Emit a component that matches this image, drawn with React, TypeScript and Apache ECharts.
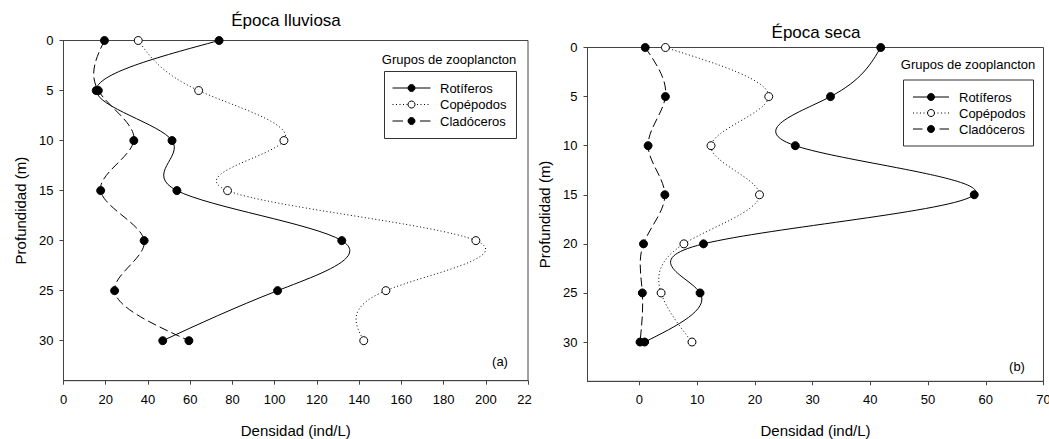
import React, { useEffect, useRef } from "react";
import * as echarts from "echarts";

// ---- Data ----
const depths = [0, 5, 10, 15, 20, 25, 30];
const seriesNames = ["Rotíferos", "Copépodos", "Cladóceros"];

// Época lluviosa (a)
const rainyRotiferos = [73.7, 15.5, 51.4, 53.7, 131.8, 101.4, 47.0];
const rainyCopepodos = [35.4, 64.0, 104.4, 77.7, 195.3, 152.7, 142.2];
const rainyCladoceros = [19.4, 16.5, 33.3, 17.6, 38.2, 24.2, 59.4];

// Época seca (b)
const dryRotiferos = [41.8, 33.1, 27.0, 58.0, 11.1, 10.5, 0.9];
const dryCopepodos = [4.5, 22.4, 12.4, 20.8, 7.7, 3.75, 9.1];
const dryCladoceros = [1.0, 4.5, 1.5, 4.4, 0.7, 0.5, 0.1];

const depthTicks = [0, 5, 10, 15, 20, 25, 30];
const dryDensityTicks = [0, 10, 20, 30, 40, 50, 60, 70];

const FONT = '"Liberation Sans", Arial, Helvetica, sans-serif';
const AXIS_COLOR = "#444";

type Kind = "solid" | "dotted" | "dashed";

function dashFor(kind: Kind): any {
  return kind === "solid" ? null : kind === "dotted" ? [1, 2.5] : [9, 4];
}

// Second derivatives of a natural cubic spline through xs (uniform knots),
// used only to place the Bezier control points of the drawn curve.
function naturalSplineM(xs: number[]): number[] {
  const n = xs.length;
  const M = new Array(n).fill(0);
  if (n < 3) return M;
  const m = n - 2;
  const c: number[] = new Array(m).fill(0);
  const d: number[] = new Array(m).fill(0);
  for (let k = 0; k < m; k++) {
    const i = k + 1;
    const rhs = 6 * (xs[i + 1] - 2 * xs[i] + xs[i - 1]);
    if (k === 0) {
      c[k] = 1 / 4;
      d[k] = rhs / 4;
    } else {
      const den = 4 - c[k - 1];
      c[k] = 1 / den;
      d[k] = (rhs - d[k - 1]) / den;
    }
  }
  for (let k = m - 1; k >= 0; k--) {
    M[k + 1] = d[k] - (k < m - 1 ? c[k] * M[k + 2] : 0);
  }
  return M;
}

function curveSeries(xs: number[], axisIndex: number, kind: Kind) {
  const M = naturalSplineM(xs);
  return {
    type: "custom",
    xAxisIndex: axisIndex,
    yAxisIndex: axisIndex,
    data: xs.map((x, i) => [x, depths[i]]),
    encode: { x: 0, y: 1 },
    silent: true,
    z: 2,
    renderItem: (params: any, api: any) => {
      if (params.dataIndex !== 0) return null;
      const n = xs.length;
      const p0 = api.coord([xs[0], depths[0]]);
      let d = `M${p0[0]} ${p0[1]}`;
      for (let i = 0; i < n - 1; i++) {
        const dxs = xs[i + 1] - xs[i];
        const dStart = dxs - (2 * M[i] + M[i + 1]) / 6;
        const dEnd = dxs + (M[i] + 2 * M[i + 1]) / 6;
        const dy = depths[i + 1] - depths[i];
        const c1 = api.coord([xs[i] + dStart / 3, depths[i] + dy / 3]);
        const c2 = api.coord([xs[i + 1] - dEnd / 3, depths[i + 1] - dy / 3]);
        const p = api.coord([xs[i + 1], depths[i + 1]]);
        d += ` C${c1[0]} ${c1[1]} ${c2[0]} ${c2[1]} ${p[0]} ${p[1]}`;
      }
      return {
        type: "path",
        shape: { pathData: d },
        style: {
          fill: "none",
          stroke: "#000",
          lineWidth: 1,
          lineDash: dashFor(kind),
        },
      };
    },
  };
}

function markerSeries(name: string, xs: number[], axisIndex: number, kind: Kind) {
  return {
    type: "scatter",
    name,
    xAxisIndex: axisIndex,
    yAxisIndex: axisIndex,
    data: xs.map((x, i) => [x, depths[i]]),
    symbol: "circle",
    symbolSize: 8,
    z: 3,
    itemStyle: {
      color: kind === "dotted" ? "#fff" : "#000",
      borderColor: "#000",
      borderWidth: 1,
      opacity: 1,
    },
    emphasis: { disabled: true },
  };
}

function legendGraphics(
  boxX: number,
  boxY: number,
  boxW: number,
  boxH: number,
  titleX: number,
  titleY: number,
  lineX1: number,
  lineX2: number,
  textX: number,
  rowsY: number[]
) {
  const cx = (lineX1 + lineX2) / 2;
  const els: any[] = [
    {
      type: "text",
      x: titleX,
      y: titleY,
      style: {
        text: "Grupos de zooplancton",
        font: `13px ${FONT}`,
        fill: "#000",
        align: "center",
        verticalAlign: "middle",
      },
    },
    {
      type: "rect",
      shape: { x: boxX, y: boxY, width: boxW, height: boxH },
      style: { fill: "#fff", stroke: "#333", lineWidth: 1 },
      z: 10,
    },
  ];
  seriesNames.forEach((n, i) => {
    const y = rowsY[i];
    if (i === 0) {
      els.push({
        type: "line",
        shape: { x1: lineX1, y1: y, x2: lineX2, y2: y },
        style: { stroke: "#000", lineWidth: 1 },
        z: 11,
      });
    } else if (i === 1) {
      els.push({
        type: "line",
        shape: { x1: lineX1, y1: y, x2: lineX2, y2: y },
        style: { stroke: "#000", lineWidth: 1, lineDash: [1, 2.5] },
        z: 11,
      });
    } else {
      els.push({
        type: "line",
        shape: { x1: lineX1, y1: y, x2: cx - 8.5, y2: y },
        style: { stroke: "#000", lineWidth: 1 },
        z: 11,
      });
      els.push({
        type: "line",
        shape: { x1: cx + 8.5, y1: y, x2: lineX2, y2: y },
        style: { stroke: "#000", lineWidth: 1 },
        z: 11,
      });
    }
    els.push({
      type: "circle",
      shape: { cx, cy: y, r: 3.5 },
      style: {
        fill: i === 1 ? "#fff" : "#000",
        stroke: "#000",
        lineWidth: 1,
      },
      z: 12,
    });
    els.push({
      type: "text",
      x: textX,
      y,
      style: {
        text: n,
        font: `13px ${FONT}`,
        fill: "#000",
        align: "left",
        verticalAlign: "middle",
      },
      z: 12,
    });
  });
  return els;
}

function yAxisDef(gridIndex: number) {
  return {
    type: "value",
    gridIndex,
    inverse: true,
    min: 0,
    max: 34,
    position: "left",
    name: "Profundidad (m)",
    nameLocation: "middle",
    nameGap: 36,
    nameTextStyle: { fontSize: 15, fontFamily: FONT, color: "#000" },
    axisLine: {
      show: true,
      onZero: false,
      lineStyle: { color: AXIS_COLOR, width: 1 },
    },
    axisTick: {
      show: true,
      inside: false,
      length: 4,
      customValues: depthTicks,
      lineStyle: { color: AXIS_COLOR },
    },
    axisLabel: {
      customValues: depthTicks,
      margin: 10,
      fontSize: 13,
      fontFamily: FONT,
      color: "#000",
    },
    splitLine: { show: false },
  };
}

export default function App() {
  const ref = useRef<HTMLDivElement>(null);

  useEffect(() => {
    if (!ref.current) return;
    const chart = echarts.init(ref.current, null, { renderer: "svg" });

    const groups: [string, number[], number, Kind][] = [
      [seriesNames[2], rainyCladoceros, 0, "dashed"],
      [seriesNames[1], rainyCopepodos, 0, "dotted"],
      [seriesNames[0], rainyRotiferos, 0, "solid"],
      [seriesNames[2], dryCladoceros, 1, "dashed"],
      [seriesNames[1], dryCopepodos, 1, "dotted"],
      [seriesNames[0], dryRotiferos, 1, "solid"],
    ];

    const option: any = {
      animation: false,
      backgroundColor: "#fff",
      textStyle: { fontFamily: FONT },
      grid: [
        {
          left: 63.5,
          top: 40.5,
          width: 464.5,
          height: 340.2,
          show: true,
          borderColor: AXIS_COLOR,
          borderWidth: 1,
          backgroundColor: "transparent",
          outerBoundsMode: "none",
        },
        {
          left: 587.5,
          top: 47.5,
          width: 456,
          height: 333.8,
          show: true,
          borderColor: AXIS_COLOR,
          borderWidth: 1,
          backgroundColor: "transparent",
          outerBoundsMode: "none",
        },
      ],
      xAxis: [
        {
          type: "value",
          gridIndex: 0,
          min: 0,
          max: 220,
          interval: 20,
          position: "bottom",
          name: "Densidad (ind/L)",
          nameLocation: "middle",
          nameGap: 42,
          nameTextStyle: { fontSize: 15, fontFamily: FONT, color: "#000" },
          axisLine: {
            show: true,
            onZero: false,
            lineStyle: { color: AXIS_COLOR, width: 1 },
          },
          axisTick: { show: true, length: 4, lineStyle: { color: AXIS_COLOR } },
          axisLabel: {
            margin: 12,
            fontSize: 13,
            fontFamily: FONT,
            color: "#000",
            formatter: (v: number) => (v === 220 ? "{cut|22}" : String(v)),
            rich: {
              cut: {
                fontSize: 13,
                fontFamily: FONT,
                color: "#000",
                padding: [0, 7, 0, 0],
              },
            },
          },
          splitLine: { show: false },
        },
        {
          type: "value",
          gridIndex: 1,
          min: -9,
          max: 70,
          position: "bottom",
          name: "Densidad (ind/L)",
          nameLocation: "middle",
          nameGap: 42,
          nameTextStyle: { fontSize: 15, fontFamily: FONT, color: "#000" },
          axisLine: {
            show: true,
            onZero: false,
            lineStyle: { color: AXIS_COLOR, width: 1 },
          },
          axisTick: {
            show: true,
            length: 4,
            customValues: dryDensityTicks,
            lineStyle: { color: AXIS_COLOR },
          },
          axisLabel: {
            customValues: dryDensityTicks,
            margin: 12,
            fontSize: 13,
            fontFamily: FONT,
            color: "#000",
          },
          splitLine: { show: false },
        },
      ],
      yAxis: [yAxisDef(0), yAxisDef(1)],
      series: [
        ...groups.map(([, xs, ax, kind]) => curveSeries(xs, ax, kind)),
        ...groups.map(([name, xs, ax, kind]) => markerSeries(name, xs, ax, kind)),
      ],
      graphic: [
        {
          type: "text",
          x: 286,
          y: 20,
          style: {
            text: "Época lluviosa",
            font: `17px ${FONT}`,
            fill: "#000",
            align: "center",
            verticalAlign: "middle",
          },
        },
        {
          type: "text",
          x: 816,
          y: 32,
          style: {
            text: "Época seca",
            font: `17px ${FONT}`,
            fill: "#000",
            align: "center",
            verticalAlign: "middle",
          },
        },
        {
          type: "text",
          x: 500,
          y: 361,
          style: {
            text: "(a)",
            font: `13px ${FONT}`,
            fill: "#000",
            align: "center",
            verticalAlign: "middle",
          },
        },
        {
          type: "text",
          x: 1017,
          y: 366,
          style: {
            text: "(b)",
            font: `13px ${FONT}`,
            fill: "#000",
            align: "center",
            verticalAlign: "middle",
          },
        },
        ...legendGraphics(384.5, 71.5, 132, 67, 449, 59.5, 392.5, 430.5, 440, [88, 104.5, 121]),
        ...legendGraphics(903.5, 80, 130, 66, 968, 64.5, 913, 949, 959, [97, 113, 129]),
      ],
    };

    chart.setOption(option);
    return () => chart.dispose();
  }, []);

  return (
    <div
      ref={ref}
      style={{
        position: "absolute",
        left: 0,
        top: 0,
        width: 1049,
        height: 439,
        background: "#fff",
      }}
    />
  );
}
